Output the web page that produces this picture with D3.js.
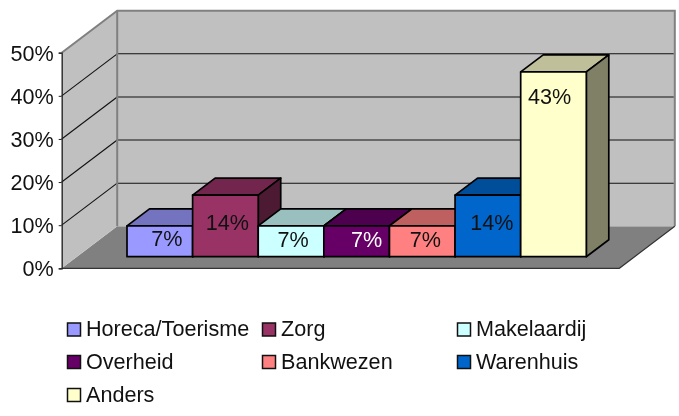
<!DOCTYPE html>
<html><head><meta charset="utf-8">
<script src="https://cdn.jsdelivr.net/npm/d3@7"></script>
<style>html,body{margin:0;padding:0;background:#fff}svg{display:block;filter:blur(0.35px)}text{font-family:"Liberation Sans",Arial,sans-serif;font-size:21.6px;fill:#111}</style>
</head><body><svg id="c" width="679" height="416"></svg>
<script>
const categories = ["Horeca/Toerisme","Zorg","Makelaardij","Overheid","Bankwezen","Warenhuis","Anders"];
const values = [7.14,14.29,7.14,7.14,7.14,14.29,42.86];
const colors = ["#9999FF","#993366","#CCFFFF","#660066","#FF8080","#0066CC","#FFFFCC"];
const yTicks = [0,10,20,30,40,50];
const labelColors = ["#111","#111","#111","#fff","#111","#111","#111"];

// layout
const labelShift = [7,2,2,10,3,4,-4];
const labelLift = [-3,-4,-2,-2,-2,-4,-3];
const legendCols = [67,262,457], legendRows = [329.5,362,395];
const floorDx = 55.5, floorDy = 42, barDx = 22.5, barDy = 17;

const svg = d3.select("#c");
const y = d3.scaleLinear().domain([0,50]).range([268.3,52.7]);
const x = d3.scaleBand().domain(categories).range([127,586.3]);
const frontLeft = 61.7, frontRight = 619.3, barBase = 256.7;
const pts = a => a.map(p=>p.join(",")).join(" ");
const backY = v => y(v)-floorDy;
const backL = frontLeft+floorDx, backR = frontRight+floorDx;
const topBack = backY(50);

// floor
svg.append("polygon").attr("points",pts([[frontLeft,y(0)],[backL,backY(0)],[backR,backY(0)],[frontRight,y(0)]])).attr("fill","#808080");
// side wall
svg.append("polygon").attr("points",pts([[frontLeft,y(0)],[backL,backY(0)],[backL,topBack],[frontLeft,y(50)]])).attr("fill","#C0C0C0");
// back wall
svg.append("rect").attr("x",backL).attr("y",topBack).attr("width",backR-backL).attr("height",backY(0)-topBack).attr("fill","#C0C0C0");

// gridlines
const grid = yTicks.filter(t=>t>0&&t<50);
svg.selectAll(".gback").data(grid).join("line").attr("x1",backL).attr("x2",backR-1)
  .attr("y1",d=>backY(d)).attr("y2",d=>backY(d)).attr("stroke","#111").attr("stroke-width",1.1);
svg.selectAll(".gside").data(grid).join("line").attr("x1",frontLeft).attr("x2",backL)
  .attr("y1",d=>y(d)).attr("y2",d=>backY(d)).attr("stroke","#111").attr("stroke-width",1.1);

// wall edges
svg.append("path").attr("fill","none").attr("stroke","#808080").attr("stroke-width",2)
  .attr("d",`M${frontLeft},${y(50)}L${backL},${topBack}H${backR}V${backY(0)}`);
svg.append("line").attr("x1",backL).attr("x2",backL).attr("y1",topBack).attr("y2",backY(0)).attr("stroke","#808080").attr("stroke-width",2);
svg.append("path").attr("fill","none").attr("stroke","#333").attr("stroke-width",1.2)
  .attr("d",`M${frontLeft},${y(0)}H${frontRight}L${backR},${backY(0)}`);

// axis
const axis = d3.axisLeft(y).tickValues(yTicks).tickFormat(d=>d+"%").tickSize(3).tickPadding(5);
const ax = svg.append("g").attr("transform",`translate(${frontLeft},0)`).call(axis);
ax.select(".domain").attr("stroke","#222").attr("stroke-width",1.3);
ax.selectAll(".tick line").attr("stroke","#222");
ax.selectAll("text").attr("fill","#111").style("font-size","21.6px").style("font-family",'"Liberation Sans"').attr("dy","0.34em");

// bars
const w = x.bandwidth();
const h = d=>y(0)-y(d);
const bars = svg.selectAll(".bar").data(categories.map((c,i)=>({c,v:values[i],col:colors[i]}))).join("g");
bars.each(function(d){
  const g = d3.select(this), l=x(d.c), r=l+w, t=barBase-h(d.v), b=barBase;
  const col=d3.rgb(d.col);
  const shade=k=>d3.rgb(col.r*k,col.g*k,col.b*k).formatHex();
  const st=s=>s.attr("stroke","#000").attr("stroke-width",1.7).attr("stroke-linejoin","round");
  st(g.append("polygon").attr("points",pts([[l,t],[l+barDx,t-barDy],[r+barDx,t-barDy],[r,t]])).attr("fill",shade(.75)));
  st(g.append("polygon").attr("points",pts([[r,t],[r+barDx,t-barDy],[r+barDx,b-barDy],[r,b]])).attr("fill",shade(.5)));
  st(g.append("rect").attr("x",l).attr("y",t).attr("width",w).attr("height",b-t).attr("fill",d.col));
});

// value labels
svg.selectAll(".val").data(values).join("text").attr("class","val")
  .attr("text-anchor","middle").attr("dy","0.36em")
  .attr("x",(d,i)=>x(categories[i])+w/2+labelShift[i])
  .attr("y",(d,i)=>d<40 ? barBase-h(d)/2+labelLift[i] : 96)
  .style("fill",(d,i)=>labelColors[i])
  .text(d=>Math.round(d)+"%");

// legend
const lg = svg.selectAll(".lg").data(categories).join("g")
  .attr("transform",(d,i)=>`translate(${legendCols[i%3]},${legendRows[Math.floor(i/3)]})`);
lg.append("rect").attr("x",0.5).attr("y",-6.5).attr("width",13).attr("height",13)
  .attr("fill",(d,i)=>colors[i]).attr("stroke","#111").attr("stroke-width",1.5);
lg.append("text").attr("x",19).attr("y",-1).attr("dy","0.36em").text(d=>d);
</script></body></html>
